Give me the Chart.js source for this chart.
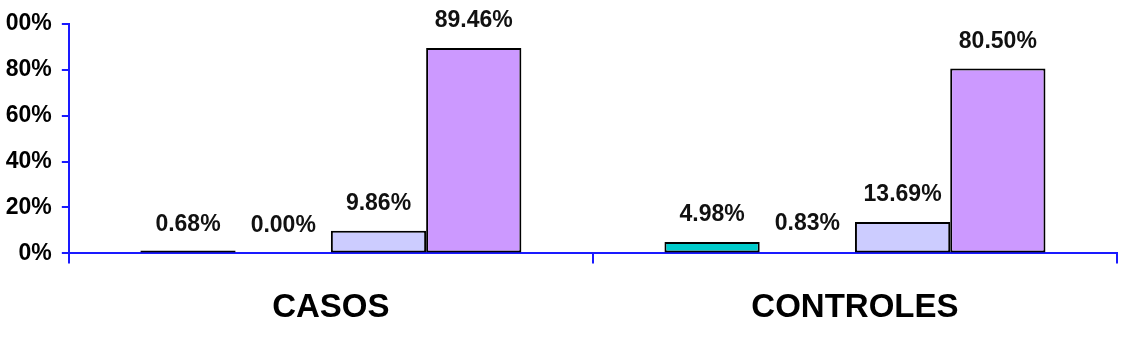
<!DOCTYPE html>
<html>
<head>
<meta charset="utf-8">
<script src="https://cdn.jsdelivr.net/npm/chart.js@4/dist/chart.umd.min.js"></script>
<style>
    html, body { margin: 0; padding: 0; background: #ffffff; overflow: hidden; }
    #wrap { position: absolute; left: -27px; top: 0; width: 1155px; height: 363px; clip-path: inset(0 0 0 33px); }
</style>
</head>
<body>
<div id="wrap"><canvas id="barChart"></canvas></div>
<script>
// Data
const categories = ['CASOS', 'CONTROLES'];
const series1 = [0.68, 4.98];
const series2 = [0.00, 0.83];
const series3 = [9.86, 13.69];
const series4 = [89.46, 80.50];
const yTicks = [0, 20, 40, 60, 80, 100];

const AXIS_BLUE = '#1a1aff';
const FONT = "'Liberation Sans', Arial, sans-serif";

// Draw the percentage above each bar
const valueLabels = {
    id: 'valueLabels',
    afterDatasetsDraw(chart) {
        const ctx = chart.ctx;
        ctx.save();
        ctx.font = 'bold 23px ' + FONT;
        ctx.fillStyle = '#111111';
        ctx.textAlign = 'center';
        ctx.textBaseline = 'alphabetic';
        chart.data.datasets.forEach((ds, i) => {
            chart.getDatasetMeta(i).data.forEach((bar, j) => {
                const base = chart.scales.y.getPixelForValue(ds.data[j]);
                ctx.fillText(ds.data[j].toFixed(2) + '%', bar.x, base - 21);
            });
        });
        ctx.restore();
    }
};

function makeSet(data, fill, border) {
    return {
        data: data,
        backgroundColor: fill,
        borderColor: border || 'rgba(0,0,0,0)',
        borderWidth: border ? 2 : 0,
        borderSkipped: false,
        categoryPercentage: 0.727,
        barPercentage: 1.0
    };
}

const set1 = makeSet(series1, '#00cccc', '#000000');
set1.minBarLength = 3;

new Chart(document.getElementById('barChart').getContext('2d'), {
    type: 'bar',
    data: {
        labels: categories,
        datasets: [
            set1,
            makeSet(series2, 'rgba(0,0,0,0)', null),
            makeSet(series3, '#ccccff', '#000000'),
            makeSet(series4, '#cc99ff', '#000000')
        ]
    },
    options: {
        responsive: true,
        maintainAspectRatio: false,
        animation: false,
        layout: { padding: { left: 10, right: 11, top: 21, bottom: 10 } },
        plugins: { legend: { display: false }, tooltip: { enabled: false } },
        scales: {
            x: {
                border: { color: AXIS_BLUE, width: 2 },
                grid: { drawOnChartArea: false, drawTicks: true, tickLength: 10, color: AXIS_BLUE, lineWidth: 2, offset: true },
                ticks: { color: '#000000', padding: 25, font: { family: FONT, size: 33, weight: 'bold' } }
            },
            y: {
                min: 0,
                max: 100,
                afterBuildTicks: axis => { axis.ticks = yTicks.map(v => ({ value: v })); },
                border: { color: AXIS_BLUE, width: 2 },
                grid: { drawOnChartArea: false, drawTicks: true, tickLength: 7, color: AXIS_BLUE, lineWidth: 2 },
                ticks: {
                    color: '#000000',
                    padding: 10,
                    font: { family: FONT, size: 23, weight: 'bold' },
                    callback: v => v + '%'
                }
            }
        }
    },
    plugins: [valueLabels]
});
</script>
</body>
</html>
